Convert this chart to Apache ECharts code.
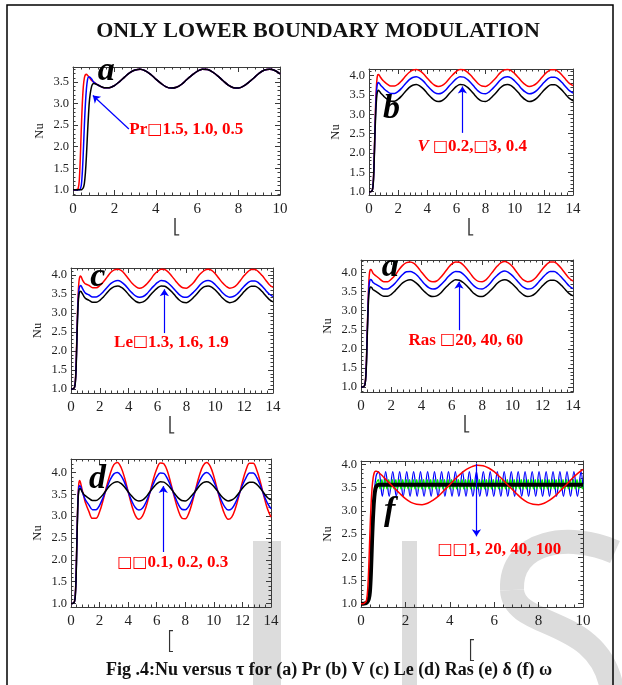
<!DOCTYPE html>
<html><head><meta charset="utf-8">
<script src="https://cdn.jsdelivr.net/npm/echarts@6/dist/echarts.min.js"></script>
<style>html,body{margin:0;padding:0;background:#fff}#c{width:622px;height:685px}</style>
</head><body><div id="c"></div>
<script>
// ---------- data ----------
const tau10 = [0,0.1,0.2,0.25,0.3,0.35,0.4,0.45,0.5,0.55,0.6,0.65,0.7,0.75,0.8,0.9,1.0,
  1.25,1.5,1.75,2,2.25,2.5,2.75,3,3.25,3.5,3.75,4,4.25,4.5,4.75,5,5.25,5.5,5.75,6,
  6.25,6.5,6.75,7,7.25,7.5,7.75,8,8.25,8.5,8.75,9,9.25,9.5,9.75,10];
const tau14 = [0,0.1,0.2,0.25,0.3,0.35,0.4,0.45,0.5,0.55,0.6,0.65,0.7,0.75,0.8,0.9,1.0,
  1.25,1.5,1.75,2,2.25,2.5,2.75,3,3.25,3.5,3.75,4,4.25,4.5,4.75,5,5.25,5.5,5.75,6,
  6.25,6.5,6.75,7,7.25,7.5,7.75,8,8.25,8.5,8.75,9,9.25,9.5,9.75,10,
  10.25,10.5,10.75,11,11.25,11.5,11.75,12,12.25,12.5,12.75,13,13.25,13.5,13.75,14];

const xTicks10 = [0,2,4,6,8,10];
const xTicks14 = [0,2,4,6,8,10,12,14];
const yTicks35 = [1.0,1.5,2.0,2.5,3.0,3.5];
const yTicks40 = [1.0,1.5,2.0,2.5,3.0,3.5,4.0];

// (a) Pr = 1.5, 1.0, 0.5
const nuRedA = [1.00,1.00,1.01,1.03,1.20,1.70,2.40,3.00,3.40,3.60,3.67,3.68,3.66,3.63,3.60,3.54,3.50,
  3.42,3.37,3.37,3.42,3.51,3.62,3.72,3.78,3.80,3.76,3.68,3.57,3.47,3.39,3.36,3.38,3.45,3.56,3.66,3.75,
  3.80,3.79,3.73,3.64,3.53,3.43,3.37,3.36,3.41,3.50,3.60,3.71,3.78,3.80,3.77,3.69];
const nuBlueA = [1.00,1.00,1.00,1.00,1.00,1.02,1.10,1.40,1.90,2.50,3.00,3.35,3.55,3.62,3.62,3.57,3.50,
  3.42,3.37,3.37,3.42,3.51,3.62,3.72,3.78,3.80,3.76,3.68,3.57,3.47,3.39,3.36,3.38,3.45,3.56,3.66,3.75,
  3.80,3.79,3.73,3.64,3.53,3.43,3.37,3.36,3.41,3.50,3.60,3.71,3.78,3.80,3.77,3.69];
const nuBlackA = [1.00,1.00,1.00,1.00,1.00,1.00,1.00,1.02,1.05,1.15,1.40,1.80,2.30,2.75,3.10,3.40,3.47,
  3.42,3.37,3.37,3.42,3.51,3.62,3.72,3.78,3.80,3.76,3.68,3.57,3.47,3.39,3.36,3.38,3.45,3.56,3.66,3.75,
  3.80,3.79,3.73,3.64,3.53,3.43,3.37,3.36,3.41,3.50,3.60,3.71,3.78,3.80,3.77,3.69];

// (b) V = 0.2, 0.3, 0.4
const nuRedB = [1.00,1.00,1.02,1.08,1.30,1.80,2.50,3.20,3.65,3.92,4.02,4.03,4.01,3.98,3.95,3.90,3.86,
  3.78,3.73,3.73,3.78,3.87,3.98,4.08,4.14,4.16,4.12,4.04,3.93,3.83,3.75,3.72,3.74,3.81,3.92,4.02,4.11,
  4.16,4.15,4.09,4.00,3.89,3.79,3.73,3.72,3.77,3.86,3.96,4.07,4.14,4.16,4.13,4.05,
  3.95,3.84,3.76,3.72,3.74,3.80,3.90,4.01,4.10,4.15,4.15,4.10,4.01,3.90,3.80,3.74];
const nuBlueB = [1.00,1.00,1.02,1.08,1.28,1.75,2.45,3.05,3.50,3.73,3.81,3.82,3.80,3.78,3.75,3.71,3.67,
  3.59,3.54,3.54,3.59,3.68,3.79,3.89,3.95,3.97,3.93,3.85,3.74,3.64,3.56,3.53,3.55,3.62,3.73,3.83,3.92,
  3.97,3.96,3.90,3.81,3.70,3.60,3.54,3.53,3.58,3.67,3.77,3.88,3.95,3.97,3.94,3.86,
  3.76,3.65,3.57,3.53,3.55,3.61,3.71,3.82,3.91,3.96,3.96,3.91,3.82,3.71,3.61,3.55];
const nuBlackB = [1.00,1.00,1.02,1.07,1.25,1.70,2.40,2.90,3.30,3.52,3.60,3.62,3.60,3.58,3.55,3.51,3.47,
  3.39,3.34,3.34,3.39,3.48,3.59,3.69,3.75,3.77,3.73,3.65,3.54,3.44,3.36,3.33,3.35,3.42,3.53,3.63,3.72,
  3.77,3.76,3.70,3.61,3.50,3.40,3.34,3.33,3.38,3.47,3.57,3.68,3.75,3.77,3.74,3.66,
  3.56,3.45,3.37,3.33,3.35,3.41,3.51,3.62,3.71,3.76,3.76,3.71,3.62,3.51,3.41,3.35];

// (c) Le = 1.3, 1.6, 1.9
const nuRedC = [1.00,1.00,1.02,1.06,1.20,1.60,2.30,3.00,3.50,3.82,3.94,3.97,3.95,3.91,3.86,3.80,3.76,
  3.72,3.66,3.66,3.72,3.82,3.94,4.06,4.13,4.15,4.11,4.01,3.89,3.77,3.69,3.65,3.68,3.76,3.87,4.00,4.09,
  4.15,4.14,4.07,3.96,3.84,3.73,3.66,3.65,3.71,3.80,3.93,4.04,4.12,4.15,4.12,4.03,
  3.91,3.79,3.70,3.65,3.67,3.74,3.86,3.98,4.08,4.14,4.14,4.08,3.98,3.86,3.74,3.67];
const nuBlueC = [1.00,1.00,1.02,1.05,1.18,1.55,2.20,2.90,3.35,3.60,3.69,3.72,3.71,3.68,3.64,3.57,3.52,
  3.47,3.42,3.42,3.47,3.56,3.67,3.77,3.83,3.85,3.81,3.73,3.62,3.52,3.44,3.41,3.43,3.50,3.61,3.71,3.80,
  3.85,3.84,3.78,3.69,3.58,3.48,3.42,3.41,3.46,3.55,3.65,3.76,3.83,3.85,3.82,3.74,
  3.64,3.53,3.45,3.41,3.43,3.49,3.59,3.70,3.79,3.84,3.84,3.79,3.70,3.59,3.49,3.43];
const nuBlackC = [1.00,1.00,1.02,1.05,1.17,1.50,2.15,2.80,3.25,3.47,3.55,3.57,3.56,3.53,3.50,3.43,3.38,
  3.33,3.28,3.28,3.33,3.42,3.53,3.63,3.69,3.71,3.67,3.59,3.48,3.38,3.30,3.27,3.29,3.36,3.47,3.57,3.66,
  3.71,3.70,3.64,3.55,3.44,3.34,3.28,3.27,3.32,3.41,3.51,3.62,3.69,3.71,3.68,3.60,
  3.50,3.39,3.31,3.27,3.29,3.35,3.45,3.56,3.65,3.70,3.70,3.65,3.56,3.45,3.35,3.29];

// (d) Ras = 20, 40, 60
const nuRedD = [1.00,1.00,1.02,1.06,1.20,1.60,2.30,3.00,3.60,3.95,4.07,4.08,4.06,4.02,3.98,3.94,3.91,
  3.83,3.76,3.76,3.83,3.93,4.07,4.19,4.26,4.28,4.24,4.14,4.01,3.89,3.79,3.76,3.78,3.87,3.99,4.12,4.23,
  4.28,4.27,4.20,4.09,3.96,3.84,3.77,3.76,3.81,3.92,4.05,4.17,4.26,4.29,4.25,4.16,
  4.03,3.90,3.80,3.76,3.78,3.85,3.97,4.10,4.21,4.28,4.28,4.21,4.10,3.97,3.85,3.78];
const nuBlueD = [1.00,1.00,1.02,1.05,1.18,1.55,2.25,2.90,3.45,3.72,3.81,3.82,3.80,3.77,3.74,3.71,3.69,
  3.63,3.57,3.57,3.63,3.72,3.84,3.95,4.02,4.03,3.99,3.91,3.79,3.68,3.60,3.57,3.59,3.67,3.77,3.89,3.98,
  4.03,4.02,3.96,3.86,3.74,3.64,3.58,3.57,3.62,3.71,3.83,3.93,4.01,4.04,4.00,3.92,
  3.81,3.70,3.61,3.57,3.58,3.65,3.76,3.87,3.97,4.03,4.03,3.97,3.87,3.76,3.65,3.58];
const nuBlackD = [1.00,1.00,1.02,1.05,1.17,1.50,2.15,2.80,3.30,3.53,3.61,3.62,3.61,3.58,3.55,3.53,3.50,
  3.43,3.38,3.38,3.43,3.52,3.63,3.73,3.79,3.81,3.77,3.69,3.58,3.48,3.40,3.37,3.39,3.46,3.57,3.67,3.76,
  3.81,3.80,3.74,3.65,3.54,3.44,3.38,3.37,3.42,3.51,3.61,3.72,3.79,3.81,3.78,3.70,
  3.60,3.49,3.41,3.37,3.39,3.45,3.55,3.66,3.75,3.80,3.80,3.75,3.66,3.55,3.45,3.39];

// (e) delta = 0.1, 0.2, 0.3
const nuRedE = [1.00,1.00,1.02,1.06,1.20,1.60,2.30,3.00,3.50,3.75,3.82,3.79,3.72,3.65,3.58,3.45,3.32,
  3.11,2.95,2.95,3.10,3.37,3.69,3.98,4.18,4.23,4.12,3.88,3.56,3.25,3.02,2.93,3.00,3.21,3.51,3.83,4.08,
  4.22,4.20,4.03,3.74,3.42,3.14,2.96,2.94,3.07,3.33,3.65,3.95,4.16,4.23,4.14,3.91,
  3.60,3.29,3.05,2.93,2.98,3.17,3.46,3.79,4.06,4.21,4.21,4.06,3.79,3.46,3.17,2.98];
const nuBlueE = [1.00,1.00,1.02,1.05,1.18,1.55,2.25,2.95,3.45,3.66,3.70,3.69,3.65,3.60,3.55,3.46,3.38,
  3.26,3.15,3.15,3.25,3.43,3.64,3.84,3.97,4.00,3.93,3.77,3.56,3.35,3.20,3.14,3.18,3.32,3.52,3.73,3.90,
  3.99,3.98,3.86,3.68,3.47,3.28,3.16,3.15,3.23,3.40,3.62,3.81,3.95,4.00,3.94,3.79,
  3.59,3.38,3.22,3.14,3.17,3.30,3.49,3.71,3.88,3.99,3.99,3.89,3.71,3.49,3.30,3.17];
const nuBlackE = [1.00,1.00,1.02,1.05,1.17,1.50,2.20,2.90,3.40,3.58,3.63,3.63,3.61,3.58,3.55,3.50,3.47,
  3.41,3.36,3.36,3.41,3.50,3.61,3.71,3.77,3.79,3.75,3.67,3.56,3.46,3.38,3.35,3.37,3.44,3.55,3.65,3.74,
  3.79,3.78,3.72,3.63,3.52,3.42,3.36,3.35,3.40,3.49,3.59,3.70,3.77,3.79,3.76,3.68,
  3.58,3.47,3.39,3.35,3.37,3.43,3.53,3.64,3.73,3.78,3.78,3.73,3.64,3.53,3.43,3.37];

// (f) omega = 1, 20, 40, 100
const nuRedF = [1.00,1.00,1.03,1.08,1.30,1.80,2.50,3.10,3.50,3.72,3.82,3.85,3.85,3.84,3.82,3.78,3.73,
  3.61,3.49,3.37,3.26,3.18,3.14,3.13,3.16,3.23,3.32,3.44,3.56,3.69,3.80,3.89,3.95,3.98,3.97,3.92,3.84,
  3.73,3.61,3.49,3.37,3.26,3.18,3.14,3.13,3.16,3.23,3.32,3.44,3.56,3.69,3.80,3.89];
const tauBlackF = [0,0.1,0.2,0.25,0.3,0.35,0.4,0.45,0.5,0.55,0.6,0.65,0.7,0.75,0.8,0.9,1.0,10];
const nuBlackF = [1.00,1.00,1.01,1.02,1.05,1.10,1.25,1.70,2.40,2.95,3.30,3.47,3.53,3.55,3.56,3.56,3.56,3.56];
const tauBlueF = [0,0.1,0.2,0.3,0.35,0.4,0.45,0.5,0.55,0.6,0.65,0.7,
  0.80,0.96,1.11,1.27,1.43,1.59,1.74,1.90,2.06,2.21,
  2.37,2.53,2.68,2.84,3.00,3.16,3.31,3.47,3.63,3.78,
  3.94,4.10,4.25,4.41,4.57,4.73,4.88,5.04,5.20,5.35,
  5.51,5.67,5.82,5.98,6.14,6.30,6.45,6.61,6.77,6.92,
  7.08,7.24,7.39,7.55,7.71,7.87,8.02,8.18,8.34,8.49,
  8.65,8.81,8.96,9.12,9.28,9.44,9.59,9.75,9.91,10.0];
const nuBlueF = [1.00,1.00,1.01,1.03,1.08,1.25,1.70,2.40,3.00,3.40,3.65,3.78,
  3.84,3.31,3.84,3.31,3.84,3.31,3.84,3.31,3.84,3.31,
  3.84,3.31,3.84,3.31,3.84,3.31,3.84,3.31,3.84,3.31,
  3.84,3.31,3.84,3.31,3.84,3.31,3.84,3.31,3.84,3.31,
  3.84,3.31,3.84,3.31,3.84,3.31,3.84,3.31,3.84,3.31,
  3.84,3.31,3.84,3.31,3.84,3.31,3.84,3.31,3.84,3.31,
  3.84,3.31,3.84,3.31,3.84,3.31,3.84,3.31,3.84,3.50];
const tauGreenF = [0,0.1,0.2,0.3,0.35,0.4,0.45,0.5,0.55,0.6,0.65,0.7,
  0.78,0.86,0.94,1.02,1.09,1.17,1.25,1.33,1.41,1.49,
  1.57,1.64,1.72,1.80,1.88,1.96,2.04,2.12,2.19,2.27,
  2.35,2.43,2.51,2.59,2.66,2.74,2.82,2.90,2.98,3.06,
  3.14,3.21,3.29,3.37,3.45,3.53,3.61,3.69,3.76,3.84,
  3.92,4.00,4.08,4.16,4.23,4.31,4.39,4.47,4.55,4.63,
  4.71,4.78,4.86,4.94,5.02,5.10,5.18,5.26,5.33,5.41,
  5.49,5.57,5.65,5.73,5.80,5.88,5.96,6.04,6.12,6.20,
  6.28,6.35,6.43,6.51,6.59,6.67,6.75,6.83,6.90,6.98,
  7.06,7.14,7.22,7.30,7.37,7.45,7.53,7.61,7.69,7.77,
  7.85,7.92,8.00,8.08,8.16,8.24,8.32,8.40,8.47,8.55,
  8.63,8.71,8.79,8.87,8.94,9.02,9.10,9.18,9.26,9.34,
  9.42,9.49,9.57,9.65,9.73,9.81,9.89,9.97,10.0];
const nuGreenF = [1.00,1.00,1.01,1.02,1.05,1.15,1.45,2.10,2.80,3.25,3.50,3.60,
  3.67,3.47,3.67,3.47,3.67,3.47,3.67,3.47,3.67,3.47,
  3.67,3.47,3.67,3.47,3.67,3.47,3.67,3.47,3.67,3.47,
  3.67,3.47,3.67,3.47,3.67,3.47,3.67,3.47,3.67,3.47,
  3.67,3.47,3.67,3.47,3.67,3.47,3.67,3.47,3.67,3.47,
  3.67,3.47,3.67,3.47,3.67,3.47,3.67,3.47,3.67,3.47,
  3.67,3.47,3.67,3.47,3.67,3.47,3.67,3.47,3.67,3.47,
  3.67,3.47,3.67,3.47,3.67,3.47,3.67,3.47,3.67,3.47,
  3.67,3.47,3.67,3.47,3.67,3.47,3.67,3.47,3.67,3.47,
  3.67,3.47,3.67,3.47,3.67,3.47,3.67,3.47,3.67,3.47,
  3.67,3.47,3.67,3.47,3.67,3.47,3.67,3.47,3.67,3.47,
  3.67,3.47,3.67,3.47,3.67,3.47,3.67,3.47,3.67,3.47,
  3.67,3.47,3.67,3.47,3.67,3.47,3.67,3.47,3.57];

// ---------- styling & layout ----------
const RED = '#ff0000', BLUE = '#0000ff', BLACK = '#000000', GREEN = '#00f000';
const SERIF = "'Liberation Serif','Times New Roman',serif";
const FRAME = '#3a3a3a';

const panels = [
  { grid:{left:73,top:67,width:207,height:128}, xMax:10, yMin:0.88, yMax:3.85, xTicks:xTicks10, yTicks:yTicks35,
    xName:'⎣', xNameGap:26, xNameSize:15,
    lines:[[tau10,nuRedA,RED,1.5],[tau10,nuBlueA,BLUE,1.5],[tau10,nuBlackA,BLACK,1.5]],
    letter:{at:[1.61,3.76], text:'a'}, label:{at:[5.47,2.39], text:'{t|Pr}{b|□}{t|1.5, 1.0, 0.5}'},
    arrow:[[2.70,2.41],[0.96,3.19]] },
  { grid:{left:369,top:69,width:204,height:126}, xMax:14, yMin:0.915, yMax:4.17, xTicks:xTicks14, yTicks:yTicks40,
    xName:'⎣', xNameGap:26, xNameSize:15,
    lines:[[tau14,nuRedB,RED,1.5],[tau14,nuBlueB,BLUE,1.5],[tau14,nuBlackB,BLACK,1.5]],
    letter:{at:[1.54,3.12], text:'b'}, label:{at:[7.08,2.17], text:'{i|V }{b|□}{t|0.2,}{b|□}{t|3, 0.4}'},
    arrow:[[6.41,2.52],[6.41,3.72]] },
  { grid:{left:71,top:268,width:202,height:125}, xMax:14, yMin:0.895, yMax:4.18, xTicks:xTicks14, yTicks:yTicks40,
    xName:'⎣', xNameGap:26, xNameSize:15,
    lines:[[tau14,nuRedC,RED,1.5],[tau14,nuBlueC,BLUE,1.5],[tau14,nuBlackC,BLACK,1.5]],
    letter:{at:[1.86,3.95], text:'c'}, label:{at:[6.96,2.23], text:'{t|Le}{b|□}{t|1.3, 1.6, 1.9}'},
    arrow:[[6.47,2.47],[6.47,3.62]] },
  { grid:{left:361,top:260,width:212,height:132}, xMax:14, yMin:0.87, yMax:4.33, xTicks:xTicks14, yTicks:yTicks40,
    xName:'⎣', xNameGap:26, xNameSize:15,
    lines:[[tau14,nuRedD,RED,1.5],[tau14,nuBlueD,BLUE,1.5],[tau14,nuBlackD,BLACK,1.5]],
    letter:{at:[1.93,4.13], text:'a'}, label:{at:[6.92,2.23], text:'{t|Ras }{b|□}{t|20, 40, 60}'},
    arrow:[[6.47,2.49],[6.47,3.76]] },
  { grid:{left:71,top:459,width:200,height:148}, xMax:14, yMin:0.92, yMax:4.31, xTicks:xTicks14, yTicks:yTicks40,
    xName:'[', xNameGap:24, xNameSize:24,
    lines:[[tau14,nuRedE,RED,1.5],[tau14,nuBlueE,BLUE,1.5],[tau14,nuBlackE,BLACK,1.5]],
    letter:{at:[1.86,3.85], text:'d'}, label:{at:[7.12,1.93], text:'{b|□□}{t|0.1, 0.2, 0.3}'},
    arrow:[[6.46,2.18],[6.46,3.69]] },
  { grid:{left:361,top:461,width:222,height:146}, xMax:10, yMin:0.93, yMax:4.07, xTicks:xTicks10, yTicks:yTicks40,
    xName:'[', xNameGap:33, xNameSize:24,
    lines:[[tauBlueF,nuBlueF,BLUE,1.3],[tauGreenF,nuGreenF,GREEN,1.3],[tauBlackF,nuBlackF,BLACK,4],[tau10,nuRedF,RED,1.5]],
    letter:{at:[1.29,2.99], text:'f'}, label:{at:[6.23,2.16], text:'{b|□□}{t|1, 20, 40, 100}'},
    arrow:[[5.2,4.01],[5.2,2.45]] }
];

function zip(t, v){ return t.map((x,i)=>[x, v[i]]); }
function minors(lo, hi, step, every){
  const out = [];
  const k0 = Math.ceil(lo/step - 1e-9), k1 = Math.floor(hi/step + 1e-9);
  for (let k = k0; k <= k1; k++) if (k % every !== 0) out.push(+(k*step).toFixed(3));
  return out;
}

const grids = [], xAxes = [], yAxes = [], series = [];
panels.forEach((p, i) => {
  grids.push(Object.assign({containLabel:false}, p.grid));
  const xm = minors(0, p.xMax, 0.4, 5), ym = minors(p.yMin, p.yMax, 0.1, 5);
  const baseX = {gridIndex:i, type:'value', min:0, max:p.xMax, splitLine:{show:false}};
  const baseY = {gridIndex:i, type:'value', min:p.yMin, max:p.yMax, splitLine:{show:false}};
  const line = {show:true, onZero:false, lineStyle:{color:FRAME, width:1}};
  const noLine = {show:false, onZero:false};
  xAxes.push(Object.assign({}, baseX, {position:'bottom', axisLine:line,
      axisTick:{show:true, inside:true, length:5, customValues:p.xTicks, lineStyle:{color:FRAME}},
      axisLabel:{show:true, customValues:p.xTicks, formatter:v=>String(v), fontFamily:SERIF, fontSize:15, color:'#222', margin:7},
      name:p.xName, nameLocation:'middle', nameGap:p.xNameGap, nameMoveOverlap:false,
      nameTextStyle:{fontFamily:'DejaVu Sans', fontSize:p.xNameSize, fontWeight:'lighter', color:'#333'}}));
  xAxes.push(Object.assign({}, baseX, {position:'top', axisLine:line,
      axisTick:{show:true, inside:true, length:5, customValues:p.xTicks, lineStyle:{color:FRAME}}, axisLabel:{show:false}}));
  xAxes.push(Object.assign({}, baseX, {position:'bottom', axisLine:noLine,
      axisTick:{show:true, inside:true, length:2.5, customValues:xm, lineStyle:{color:FRAME}}, axisLabel:{show:false}}));
  xAxes.push(Object.assign({}, baseX, {position:'top', axisLine:noLine,
      axisTick:{show:true, inside:true, length:2.5, customValues:xm, lineStyle:{color:FRAME}}, axisLabel:{show:false}}));
  yAxes.push(Object.assign({}, baseY, {position:'left', axisLine:line,
      axisTick:{show:true, inside:true, length:5, customValues:p.yTicks, lineStyle:{color:FRAME}},
      axisLabel:{show:true, customValues:p.yTicks, formatter:v=>v.toFixed(1), fontFamily:SERIF, fontSize:12.5, color:'#222', margin:4},
      name:'Nu', nameLocation:'middle', nameGap:27, nameMoveOverlap:false,
      nameTextStyle:{fontFamily:SERIF, fontSize:12.5, color:'#222'}}));
  yAxes.push(Object.assign({}, baseY, {position:'right', axisLine:line,
      axisTick:{show:true, inside:true, length:5, customValues:p.yTicks, lineStyle:{color:FRAME}}, axisLabel:{show:false}}));
  yAxes.push(Object.assign({}, baseY, {position:'left', axisLine:noLine,
      axisTick:{show:true, inside:true, length:2.5, customValues:ym, lineStyle:{color:FRAME}}, axisLabel:{show:false}}));
  yAxes.push(Object.assign({}, baseY, {position:'right', axisLine:noLine,
      axisTick:{show:true, inside:true, length:2.5, customValues:ym, lineStyle:{color:FRAME}}, axisLabel:{show:false}}));

  p.lines.forEach(([t, v, color, w]) => {
    series.push({type:'line', xAxisIndex:4*i, yAxisIndex:4*i, data:zip(t, v), showSymbol:false, symbol:'none',
      smooth:0.35, clip:true, silent:true, lineStyle:{color, width:w}, itemStyle:{color}, z:3});
  });
  const noBorder = {textBorderWidth:0, textBorderColor:'transparent', textShadowBlur:0};
  series.push({type:'scatter', xAxisIndex:4*i, yAxisIndex:4*i, symbolSize:0, silent:true, z:5,
    itemStyle:{color:'#000', opacity:1},
    data:[
      {value:p.letter.at, label:Object.assign({show:true, position:'inside', formatter:p.letter.text,
        fontFamily:SERIF, fontStyle:'italic', fontWeight:'bold', fontSize:34, color:'#000'}, noBorder)},
      {value:p.label.at, label:Object.assign({show:true, position:'inside', formatter:p.label.text,
        rich:{
          t:Object.assign({fontFamily:SERIF, fontWeight:'bold', fontSize:17, color:RED}, noBorder),
          i:Object.assign({fontFamily:SERIF, fontWeight:'bold', fontStyle:'italic', fontSize:17, color:RED}, noBorder),
          b:Object.assign({fontFamily:'DejaVu Sans', fontWeight:'normal', fontSize:16, color:RED}, noBorder)
        }}, noBorder)}
    ],
    markLine:{silent:true, symbol:['none','arrow'], symbolSize:7, precision:4, animation:false,
      label:{show:false}, emphasis:{disabled:true},
      lineStyle:{color:BLUE, width:1.2, type:'solid', opacity:1},
      data:[[{coord:p.arrow[0]},{coord:p.arrow[1]}]]}
  });
});

const WM = '#dcdcdc';
const option = {
  backgroundColor:'#ffffff',
  animation:false,
  grid:grids, xAxis:xAxes, yAxis:yAxes, series:series,
  graphic:[
    {type:'rect', z:-10, shape:{x:253, y:541, width:28, height:150}, style:{fill:WM}},
    {type:'rect', z:-10, shape:{x:402, y:541, width:15, height:150}, style:{fill:WM}},
    {type:'bezierCurve', z:-10, shape:{x1:615, y1:552, cpx1:570, cpy1:532, cpx2:510, cpy2:540, x2:512, y2:590},
      style:{fill:'none', stroke:WM, lineWidth:24}},
    {type:'bezierCurve', z:-10, shape:{x1:512, y1:590, cpx1:514, cpy1:630, cpx2:600, cpy2:615, x2:612, y2:690},
      style:{fill:'none', stroke:WM, lineWidth:24}},
    {type:'rect', z:20, shape:{x:7, y:5, width:606, height:700}, style:{fill:'none', stroke:'#000', lineWidth:1.5}},
    {type:'text', z:20, x:318, y:31, style:{text:'ONLY LOWER BOUNDARY MODULATION', fontFamily:SERIF,
      fontWeight:'bold', fontSize:22, fill:'#111', align:'center', verticalAlign:'middle'}},
    {type:'text', z:20, x:329, y:670, style:{text:'Fig .4:Nu versus τ for (a) Pr (b) V (c) Le (d) Ras (e) δ (f) ω',
      fontFamily:SERIF, fontWeight:'bold', fontSize:18, fill:'#111', align:'center', verticalAlign:'middle'}}
  ]
};
const chart = echarts.init(document.getElementById('c'), null, {renderer:'canvas'});
chart.setOption(option);
</script>
</body></html>
